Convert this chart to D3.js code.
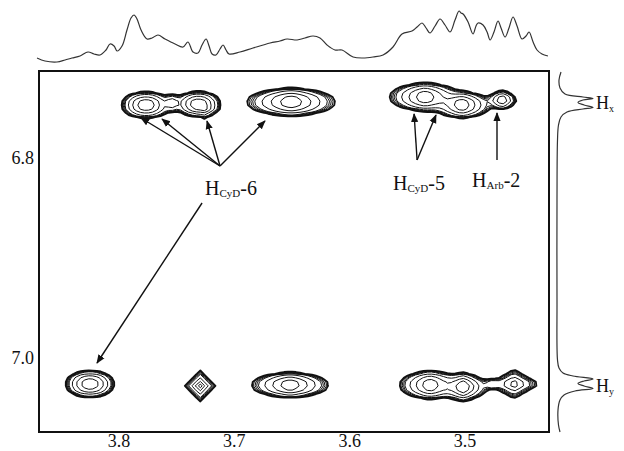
<!DOCTYPE html>
<html>
<head>
<meta charset="utf-8">
<script src="https://cdn.jsdelivr.net/npm/d3@7"></script>
<style>
  html, body { margin: 0; padding: 0; background: #fff; }
</style>
</head>
<body>
<svg id="chart" width="624" height="451"></svg>
<script>
// tick labels
const xTicks = [3.8, 3.7, 3.6, 3.5];
const yTicks = [6.8, 7.0];

// cross peaks (ppm); px/py = shape exponents along each axis
const peakX   = [3.7766, 3.7315, 3.7254, 3.7540, 3.6508, 3.5347, 3.5025, 3.4678, 3.8252, 3.7297, 3.6517, 3.5303, 3.5016, 3.4765, 3.4575];
const peakY   = [6.747, 6.746, 6.751, 6.745, 6.744, 6.739, 6.747, 6.742, 7.026, 7.028, 7.027, 7.027, 7.029, 7.026, 7.026];
const peakSx  = [0.0085, 0.0078, 0.0017, 0.0037, 0.0115, 0.0092, 0.0074, 0.0040, 0.0085, 0.0022, 0.0100, 0.0079, 0.0050, 0.0035, 0.0040];
const peakSy  = [0.0063, 0.0059, 0.0020, 0.0042, 0.0068, 0.0068, 0.0063, 0.0039, 0.0063, 0.0026, 0.0061, 0.0068, 0.0056, 0.0015, 0.0026];
const peakPx  = [2, 2, 1, 2, 1.5, 1.5, 1.5, 1.5, 2, 1, 1.5, 1.5, 1.3, 2, 1];
const peakPy  = [2.5, 2.5, 1, 2, 2.5, 2.5, 2.5, 2, 2.5, 1, 2.5, 2.5, 2, 2, 1];
const peakAmp = [1.0, 1.0, 0.5, 0.3, 1.0, 1.0, 1.0, 0.7, 1.0, 1.0, 1.0, 1.0, 1.2, 0.22, 0.8];
const levels  = [0.05, 0.06, 0.072, 0.086, 0.105, 0.2, 0.4, 0.7];

// 1D projection on top (ppm, intensity)
const topPpm = [3.8711, 3.8642, 3.8538, 3.8468, 3.8408, 3.8338, 3.8269, 3.8217, 3.8165, 3.8113, 3.8078, 3.8043, 3.8017, 3.7974, 3.7931, 3.7896, 3.7870, 3.7844, 3.7809, 3.7757, 3.7714, 3.7662, 3.7601, 3.7514, 3.7445, 3.7402, 3.7358, 3.7315, 3.7280, 3.7245, 3.7219, 3.7193, 3.7159, 3.7124, 3.7098, 3.7072, 3.7046, 3.6951, 3.6838, 3.6690, 3.6604, 3.6543, 3.6456, 3.6387, 3.6317, 3.6257, 3.6196, 3.6127, 3.6066, 3.5970, 3.5884, 3.5797, 3.5710, 3.5624, 3.5546, 3.5459, 3.5415, 3.5372, 3.5337, 3.5303, 3.5259, 3.5216, 3.5173, 3.5129, 3.5086, 3.5051, 3.5034, 3.5016, 3.4973, 3.4930, 3.4904, 3.4886, 3.4843, 3.4808, 3.4782, 3.4748, 3.4713, 3.4687, 3.4652, 3.4618, 3.4583, 3.4548, 3.4505, 3.4470, 3.4444, 3.4409, 3.4375, 3.4332, 3.4280];
const topInt = [4, 1, 0, 2, 4, 6, 10, 8, 7, 12, 18, 16, 11, 16, 32, 44, 47, 43, 32, 23, 24, 27, 23, 18, 15, 20, 10, 9, 17, 23, 16, 8, 7, 13, 17, 12, 8, 10, 14, 19, 21, 23, 22, 24, 26, 24, 17, 12, 12, 5, 4, 5, 7, 15, 28, 31, 35, 39, 34, 29, 36, 43, 37, 30, 42, 51, 49, 48, 40, 28, 36, 39, 37, 30, 22, 30, 41, 34, 25, 34, 45, 36, 23, 26, 30, 20, 12, 8, 6];

// 1D projection on the right (ppm, intensity)
const rightPpm = [6.714, 6.722, 6.730, 6.736, 6.739, 6.7405, 6.742, 6.7445, 6.747, 6.7495, 6.751, 6.754, 6.759, 6.767, 6.782, 6.842, 6.942, 7.002, 7.010, 7.015, 7.018, 7.021, 7.023, 7.0255, 7.028, 7.0305, 7.033, 7.037, 7.042, 7.052, 7.067, 7.074];
const rightInt = [4, 2, 3, 8, 26, 36, 26, 21, 27, 36, 26, 10, 4, 1.5, 0.5, 0, 0, 0.5, 2, 6, 16, 36, 27, 21, 27, 36, 18, 7, 3, 1, 1.5, 3];

// annotations (ppm)
const cyd6From = [3.7124, 6.808];
const cyd6To = [[3.7809, 6.760], [3.7627, 6.761], [3.7237, 6.763], [3.6734, 6.763]];
const cyd6Down = [[3.728, 6.845], [3.8191, 7.005]];
const cyd5From = [3.5415, 6.802];
const cyd5To = [[3.5441, 6.756], [3.5251, 6.757]];
const arb2From = [3.4722, 6.802];
const arb2To = [[3.4722, 6.755]];
const labels = [
  {x: 3.7254, y: 6.837, main: 'H', sub: 'CyD', tail: '-6'},
  {x: 3.5624, y: 6.832, main: 'H', sub: 'CyD', tail: '-5'},
  {x: 3.4938, y: 6.829, main: 'H', sub: 'Arb', tail: '-2'}
];
const sideLabels = [{y: 6.751, sub: 'x'}, {y: 7.034, sub: 'y'}];

const serif = '"Liberation Serif", "Times New Roman", Times, serif';
const plotLeft = 39, plotRight = 549, plotTop = 71, plotBottom = 432;
const svg = d3.select('#chart');

const x = d3.scaleLinear().domain([3.8694, 3.4271]).range([plotLeft, plotRight]);
const y = d3.scaleLinear().domain([6.713, 7.074]).range([plotTop, plotBottom]);

// arrow head
svg.append('defs').append('marker')
    .attr('id', 'arrow')
    .attr('viewBox', '0 0 10 10')
    .attr('refX', 9).attr('refY', 5)
    .attr('markerWidth', 9).attr('markerHeight', 9)
    .attr('markerUnits', 'userSpaceOnUse')
    .attr('orient', 'auto')
    .append('path')
    .attr('d', 'M0,1 L10,5 L0,9 z')
    .attr('fill', '#111');

// contour field on a coarse grid
const nx = 128, ny = 90;
const gx = d3.scaleLinear().domain([0, nx]).range(x.domain());
const gy = d3.scaleLinear().domain([0, ny]).range(y.domain());
const values = new Float64Array(nx * ny);
for (let j = 0; j < ny; j++) {
  for (let i = 0; i < nx; i++) {
    const px = gx(i + 0.5), py = gy(j + 0.5);
    let v = 0;
    for (let k = 0; k < peakX.length; k++) {
      const dx = Math.abs(px - peakX[k]) / peakSx[k];
      const dy = Math.abs(py - peakY[k]) / peakSy[k];
      v += peakAmp[k] * Math.exp(-0.5 * (Math.pow(dx, peakPx[k]) + Math.pow(dy, peakPy[k])));
    }
    values[i + j * nx] = v;
  }
}
const contours = d3.contours().size([nx, ny]).thresholds(levels)(values);
const path = d3.geoPath(d3.geoTransform({
  point: function(a, b) { this.stream.point(x(gx(a)), y(gy(b))); }
}));

svg.append('g')
    .selectAll('path')
    .data(contours)
    .join('path')
    .attr('d', path)
    .attr('fill', 'none')
    .attr('stroke', '#111')
    .attr('stroke-width', (d, i) => i === 0 ? 1.8 : 1)
    .attr('stroke-linejoin', 'round');

// frame
svg.append('rect')
    .attr('x', plotLeft).attr('y', plotTop)
    .attr('width', plotRight - plotLeft).attr('height', plotBottom - plotTop)
    .attr('fill', 'none')
    .attr('stroke', '#111')
    .attr('stroke-width', 2);

// tick labels
svg.append('g')
    .selectAll('text')
    .data(xTicks)
    .join('text')
    .attr('x', d => x(d))
    .attr('y', 447)
    .attr('text-anchor', 'middle')
    .style('font-family', serif)
    .style('font-size', '18px')
    .attr('fill', '#111')
    .text(d => d.toFixed(1));

svg.append('g')
    .selectAll('text')
    .data(yTicks)
    .join('text')
    .attr('x', 34)
    .attr('y', d => y(d) + 6)
    .attr('text-anchor', 'end')
    .style('font-family', serif)
    .style('font-size', '18px')
    .attr('fill', '#111')
    .text(d => d.toFixed(1));

// top projection
const topY = d3.scaleLinear().domain([0, 50]).range([62, 12]);
svg.append('path')
    .datum(topPpm.map((p, i) => [p, topInt[i]]))
    .attr('d', d3.line().x(d => x(d[0])).y(d => topY(d[1])).curve(d3.curveCatmullRom.alpha(0.5)))
    .attr('fill', 'none')
    .attr('stroke', '#333')
    .attr('stroke-width', 1.2);

// right projection
const rightX = d3.scaleLinear().domain([0, 36]).range([557, 593]);
svg.append('path')
    .datum(rightPpm.map((p, i) => [p, rightInt[i]]))
    .attr('d', d3.line().x(d => rightX(d[1])).y(d => y(d[0])).curve(d3.curveCatmullRom.alpha(0.5)))
    .attr('fill', 'none')
    .attr('stroke', '#333')
    .attr('stroke-width', 1.2);

svg.append('g')
    .selectAll('text')
    .data(sideLabels)
    .join('text')
    .attr('x', rightX(39))
    .attr('y', d => y(d.y))
    .style('font-family', serif)
    .style('font-size', '18px')
    .attr('fill', '#111')
    .call(t => {
      t.append('tspan').text('H');
      t.append('tspan').style('font-size', '10px').attr('dy', 3).text(d => d.sub);
    });

// arrows
const arrows = [];
cyd6To.forEach(t => arrows.push([cyd6From, t]));
arrows.push(cyd6Down);
cyd5To.forEach(t => arrows.push([cyd5From, t]));
arb2To.forEach(t => arrows.push([arb2From, t]));

svg.append('g')
    .selectAll('line')
    .data(arrows)
    .join('line')
    .attr('x1', d => x(d[0][0])).attr('y1', d => y(d[0][1]))
    .attr('x2', d => x(d[1][0])).attr('y2', d => y(d[1][1]))
    .attr('stroke', '#111')
    .attr('stroke-width', 1.4)
    .attr('marker-end', 'url(#arrow)');

svg.append('g')
    .selectAll('text')
    .data(labels)
    .join('text')
    .attr('x', d => x(d.x))
    .attr('y', d => y(d.y))
    .style('font-family', serif)
    .style('font-size', '20px')
    .attr('fill', '#111')
    .call(t => {
      t.append('tspan').text(d => d.main);
      t.append('tspan').style('font-size', '11px').attr('dy', 2).text(d => d.sub);
      t.append('tspan').attr('dy', -2).text(d => d.tail);
    });
</script>
</body>
</html>
